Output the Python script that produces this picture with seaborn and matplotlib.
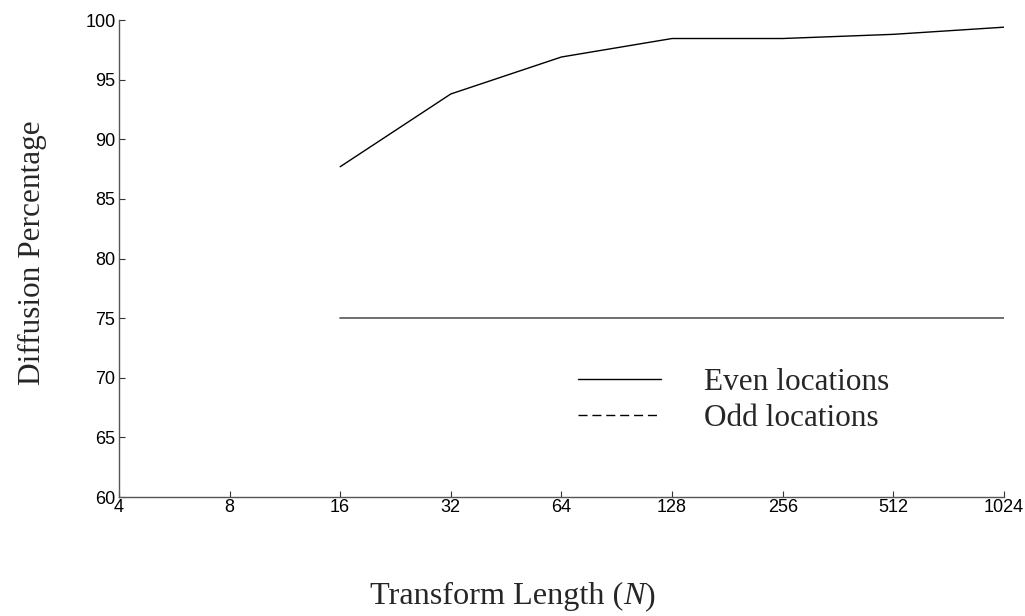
import matplotlib
matplotlib.use("Agg")
import matplotlib.pyplot as plt
from matplotlib.lines import Line2D
import seaborn as sns
import pandas as pd

# Transform lengths and diffusion results
lengths = [16, 32, 64, 128, 256, 512, 1024]
even_pct = [87.7, 93.8, 96.9, 98.45, 98.45, 98.8, 99.4]
odd_pct = [75, 75, 75, 75, 75, 75, 75]
x_ticks = [4, 8, 16, 32, 64, 128, 256, 512, 1024]
y_ticks = [60, 65, 70, 75, 80, 85, 90, 95, 100]

sns.set_style("white")
plt.rcParams["font.family"] = ["Liberation Sans", "DejaVu Sans"]

df = pd.DataFrame({"N": lengths + lengths,
                   "pct": even_pct + odd_pct,
                   "series": ["Even locations"] * len(lengths) + ["Odd locations"] * len(lengths)})

fig = plt.figure(figsize=(10.25, 6.16), dpi=100)
ax = fig.add_axes([0.116, 0.193, 0.8635, 0.7745])

sns.lineplot(data=df[df.series == "Even locations"], x="N", y="pct", color="black",
             linewidth=1.0, ax=ax, legend=False)
sns.lineplot(data=df[df.series == "Odd locations"], x="N", y="pct", color="#555555",
             linewidth=1.2, ax=ax, legend=False)

ax.set_xscale("log", base=2)
ax.set_xlim(4, 1024)
ax.set_ylim(60, 100)
ax.set_xticks(x_ticks)
ax.set_xticklabels([str(t) for t in x_ticks])
ax.set_yticks(y_ticks)
ax.set_yticklabels([str(t) for t in y_ticks])
ax.minorticks_off()
ax.tick_params(bottom=True, left=True, direction="in", length=4, width=0.8,
               color="#333333", labelsize=13, labelcolor="black")
ax.tick_params(axis="x", pad=1.5)
ax.tick_params(axis="y", pad=2.5)

for side in ["top", "right"]:
    ax.spines[side].set_visible(False)
for side in ["left", "bottom"]:
    ax.spines[side].set_color("#555555")
    ax.spines[side].set_linewidth(1.0)

ax.set_xlabel("")
ax.set_ylabel("")
serif = ["Liberation Serif", "DejaVu Serif"]
fs = 22.5
xfs = 23.2
fig.text(0.608, 0.031, "Transform Length (", family=serif, fontsize=xfs, ha="right", va="center")
fig.text(0.608, 0.031, "N", family=serif, fontsize=xfs, style="italic", ha="left", va="center")
fig.text(0.629, 0.031, ")", family=serif, fontsize=xfs, ha="left", va="center")
fig.text(0.032, 0.59, "Diffusion Percentage", family=serif, fontsize=fs, rotation=90,
         ha="center", va="center")

handles = [Line2D([], [], color="black", linewidth=1.0),
           Line2D([], [], color="black", linewidth=1.0, linestyle=(0, (6.5, 3.5)))]
ax.legend(handles, ["Even locations", "Odd locations"], loc="upper left",
          bbox_to_anchor=(0.5186, 0.2703), frameon=False, borderpad=0, borderaxespad=0,
          handlelength=2.67, handletextpad=1.37, labelspacing=0.215,
          prop={"family": serif, "size": fs})

fig.savefig("out.png", dpi=100)
